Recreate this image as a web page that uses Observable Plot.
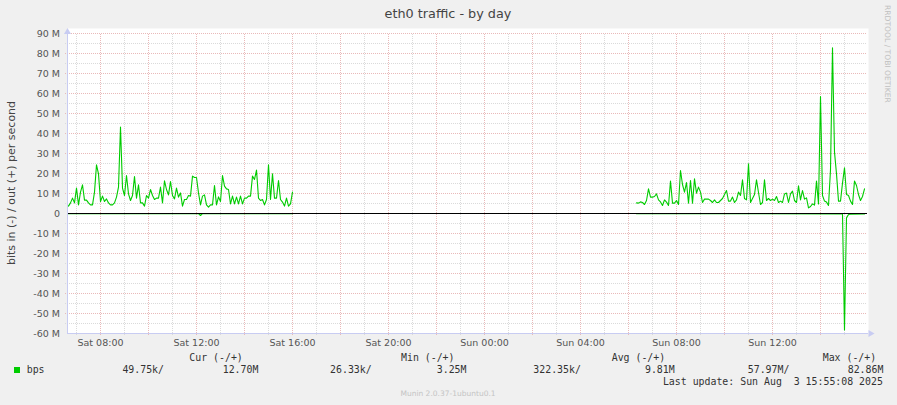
<!DOCTYPE html>
<html><head><meta charset="utf-8">
<script src="https://cdn.jsdelivr.net/npm/d3@7"></script>
<script src="https://cdn.jsdelivr.net/npm/@observablehq/plot@0.6"></script>
<style>
html,body{margin:0;padding:0;background:#f0f0f0;}
#wrap{position:relative;width:897px;height:405px;background:#f0f0f0;overflow:hidden;font-family:"DejaVu Sans",sans-serif;}
#wrap svg{position:absolute;left:0;top:0;}
.t{position:absolute;white-space:pre;line-height:1;transform:translateY(-50%);}
.mono{font-family:"DejaVu Sans Mono",monospace;font-size:9.9px;color:#333;}
</style></head><body><div id="wrap"></div>
<script>
// ---- data ----
const title = "eth0 traffic - by day";
const yLabel = "bits in (-) / out (+) per second";
const watermark = "RRDTOOL / TOBI OETIKER";
const footer = "Munin 2.0.37-1ubuntu0.1";
const seriesName = "bps";
const seriesColor = "#00cc00";
const xDomain = ["Sat 06:37:30", "Sun 15:57:30"];
const yDomain = [-60, 90];
const stepMinutes = 5;

// out (+) traffic, Mbit/s, 5-minute samples
const outSeg1Start = "Sat 06:35";
const outSeg1 = [4.3,3.7,5.3,7.7,5.3,12.7,4.3,10.7,14.3,6.7,6.7,5.3,4.3,4.3,10.7,24.3,19.8,6,8.7,6,7.3,5.3,4.3,4.3,5.3,8.2,13.2,43.2,12.7,9,19,9.8,6.5,9,18.5,7.7,14.3,5.3,5.3,3.7,9,7.7,12,9,7,7.7,7.7,13.2,5.3,16.3,12,9.3,16,9,7.3,12.7,8.2,
  10.3,3.7,7,7,9,8.7,18.7,18,18,10.3,4.3,8.7,9.3,4.3,3.2,4.3,4.3,14,4.3,8.3,6,19,13.7,12.3,12,4.8,8.7,4.8,8.2,4.8,8.7,4.8,7.7,7.7,8.7,8.7,18.7,17,21.7,7.7,6.5,7,4.3,7,24.3,7,19.8,7.7,7.7,16.5,7,5.7,3.7,7.7,3.7,4.8,10.7];
const outSeg2Start = "Sun 06:20";
const outSeg2 = [5.3,5.2,5.8,5.5,4.5,6.5,12.3,8.2,8.2,8.5,9.8,6.8,5.8,4,6.8,5.7,4,16.2,5.2,5.2,6.5,4.5,21.5,14.5,10.7,15.5,5.2,16.5,5.2,17.3,10.2,13.2,10.7,5.5,7.2,7.2,7.2,6.5,5.5,6.8,5.5,5.5,6.5,7.5,9.5,11.5,6.2,6.2,8.2,5.5,6.8,10.7,9,16.8,7.5,6.8,24.8,
  5.5,7.5,9.5,16.8,10.5,4.5,5.5,16.8,6.5,7.5,6.5,7.2,6.5,8.5,5.5,6.2,5.5,9.8,10.2,5.5,9.8,11.2,6.5,5.5,13.8,6.8,11.5,7.2,7.8,2.8,3.5,4.8,4.2,16.2,4.8,
  58.5,9,6.2,5.7,4,21.8,82.8,30.7,19.8,6.2,6.2,15.2,22.8,9.5,9,6.2,4.5,16.2,14,9.5,6.5,8.5,12.3];

// in (-) traffic, Mbit/s (drawn negative)
const inSeg1Times = ["Sat 06:35","Sat 12:05","Sat 12:10","Sat 12:15","Sat 16:00"];
const inSeg1 = [-0.1,-0.1,-1.0,-0.1,-0.1];
const inSeg2Times = ["Sun 06:20","Sun 14:55","Sun 15:00","Sun 15:05","Sun 15:10","Sun 15:15","Sun 15:50"];
const inSeg2 = [-0.1,-0.2,-58.2,-2.2,-0.5,-0.3,-0.2];

// ticks
const yTicksMajor = [-60,-50,-40,-30,-20,-10,0,10,20,30,40,50,60,70,80,90];
const yTicksMinor = [-55,-45,-35,-25,-15,-5,5,15,25,35,45,55,65,75,85];
const xLabelTicks = ["Sat 08:00","Sat 12:00","Sat 16:00","Sat 20:00","Sun 00:00","Sun 04:00","Sun 08:00","Sun 12:00"];
const xMajorTicks = ["Sat 08:00","Sat 10:00","Sat 12:00","Sat 14:00","Sat 16:00","Sat 18:00","Sat 20:00","Sat 22:00","Sun 00:00","Sun 02:00","Sun 04:00","Sun 06:00","Sun 08:00","Sun 10:00","Sun 12:00","Sun 14:00"];
const xMinorTicks = ["Sat 07:00","Sat 09:00","Sat 11:00","Sat 13:00","Sat 15:00","Sat 17:00","Sat 19:00","Sat 21:00","Sat 23:00","Sun 01:00","Sun 03:00","Sun 05:00","Sun 07:00","Sun 09:00","Sun 11:00","Sun 13:00","Sun 15:00"];

// legend
const legendHeaders = ["Cur (-/+)","Min (-/+)","Avg (-/+)","Max (-/+)"];
const legendValues = ["49.75k/","12.70M","26.33k/","3.25M","322.35k/","9.81M","57.97M/","82.86M"];
const lastUpdate = "Last update: Sun Aug  3 15:55:08 2025";

// ---- helpers ----
function toMin(s){
  const [d, hm] = s.split(" ");
  const p = hm.split(":").map(Number);
  return (d === "Sun" ? 1440 : 0) + p[0]*60 + p[1] + (p[2]||0)/60;
}
function fmt(m){
  const d = m >= 1440 ? "Sun" : "Sat";
  const r = m % 1440;
  return `${d} ${String(Math.floor(r/60)).padStart(2,"0")}:${String(Math.round(r%60)).padStart(2,"0")}`;
}
const outData = [];
outSeg1.forEach((v,i)=>outData.push({t: toMin(outSeg1Start)+i*stepMinutes, v, seg: 1}));
outSeg2.forEach((v,i)=>outData.push({t: toMin(outSeg2Start)+i*stepMinutes, v, seg: 2}));
const inData = [];
inSeg1.forEach((v,i)=>inData.push({t: toMin(inSeg1Times[i]), v, seg: 1}));
inSeg2.forEach((v,i)=>inData.push({t: toMin(inSeg2Times[i]), v, seg: 2}));

const xd = xDomain.map(toMin);
const xMaj = xMajorTicks.map(toMin), xMin = xMinorTicks.map(toMin), xLab = xLabelTicks.map(toMin);
const majorColor = "#e9b9b9", minorColor = "#dadada", axisColor = "#c8ccf2", textColor = "#555";
const minPerPx = (xd[1]-xd[0]) / 800;
const yPerPx = (yDomain[1]-yDomain[0]) / 300;

const plot = Plot.plot({
  width: 897, height: 405,
  marginLeft: 67, marginRight: 30, marginTop: 33, marginBottom: 72,
  style: {background: "transparent", fontFamily: "DejaVu Sans, sans-serif", fontSize: "9.5px", color: textColor},
  x: {domain: xd, label: null},
  y: {domain: yDomain, label: null},
  marks: [
    Plot.frame({fill: "white", stroke: null, insetTop: -5, insetRight: -1}),
    Plot.gridY(yTicksMinor, {stroke: minorColor, strokeOpacity: 1, strokeDasharray: "1,1", x1: xd[0] - 2*minPerPx, x2: xd[1]}),
    Plot.gridX(xMin, {stroke: minorColor, strokeOpacity: 1, strokeDasharray: "1,1", y1: yDomain[0] - 2*yPerPx, y2: yDomain[1]}),
    Plot.gridY(yTicksMajor.filter(d => d !== 0 && d !== yDomain[0]), {stroke: majorColor, strokeOpacity: 1, strokeDasharray: "1,1", x1: xd[0] - 2*minPerPx, x2: xd[1]}),
    Plot.gridX(xMaj, {stroke: majorColor, strokeOpacity: 1, strokeDasharray: "1,1", y1: yDomain[0] - 2*yPerPx, y2: yDomain[1]}),
    Plot.line(inData, {x: "t", y: "v", z: "seg", stroke: seriesColor, strokeWidth: 1.1, clip: true}),
    Plot.line(outData, {x: "t", y: "v", z: "seg", stroke: seriesColor, strokeWidth: 1.1, clip: true}),
    Plot.ruleY([0], {stroke: "black", strokeWidth: 1.2}),
    Plot.ruleX([xd[0]], {y1: yDomain[0], y2: yDomain[1] + 1.5, stroke: axisColor}),
    Plot.ruleY([yDomain[0]], {x1: xd[0], x2: xd[1] + 1*minPerPx, stroke: axisColor}),
    Plot.dot([{x: xd[0], y: yDomain[1] + 1.5*yPerPx}], {x: "x", y: "y", symbol: "triangle", r: 2.6, fill: axisColor, stroke: null}),
    Plot.dot([{x: xd[1] + 3*minPerPx, y: yDomain[0]}], {x: "x", y: "y", symbol: "triangle", r: 2.6, fill: axisColor, stroke: null, rotate: 90}),
    Plot.axisX(xLab, {tickSize: 0, tickPadding: 6, tickFormat: fmt, fill: textColor, fontSize: 9.5}),
    Plot.axisY(yTicksMajor, {tickSize: 0, tickPadding: 7.5, tickFormat: d => d === 0 ? "0" : `${d} M`, fill: textColor, fontSize: 9.5})
  ]
});
const wrap = document.getElementById("wrap");
wrap.appendChild(plot);

function addText(txt, cls, css){
  const el = document.createElement("div");
  el.className = "t " + (cls||"");
  el.textContent = txt;
  Object.assign(el.style, css);
  wrap.appendChild(el);
  return el;
}
// title
addText(title, "", {left: "448px", top: "14.3px", transform: "translate(-50%,-50%)", fontSize: "12.8px", color: "#444"});
// y label
addText(yLabel, "", {left: "10.5px", top: "183px", transform: "translate(-50%,-50%) rotate(-90deg)", fontSize: "11px", color: "#444"});
// watermark
addText(watermark, "", {left: "887px", top: "5px", transform: "translateX(-50%)", writingMode: "vertical-rl", fontSize: "7.6px", color: "#c0c0c0"});
// footer
addText(footer, "", {left: "448px", top: "394px", transform: "translate(-50%,-50%)", fontSize: "7.5px", color: "#c4c4c4"});
// legend headers
const headerLeft = [189.3, 401, 611.7, 822.7];
legendHeaders.forEach((h,i)=>addText(h, "mono", {left: headerLeft[i]+"px", top: "357.8px"}));
// swatch + name
const sw = document.createElement("div");
Object.assign(sw.style, {position: "absolute", left: "14px", top: "367.3px", width: "5.5px", height: "5.5px", background: seriesColor});
wrap.appendChild(sw);
addText(seriesName, "mono", {left: "26.7px", top: "370px"});
const valueRight = [164, 258.4, 371.7, 466.5, 580.9, 674.7, 789.4, 883.4];
legendValues.forEach((v,i)=>addText(v, "mono", {right: (897 - valueRight[i])+"px", top: "370px"}));
addText(lastUpdate, "mono", {right: (897 - 882.9)+"px", top: "381.7px"});
</script></body></html>
